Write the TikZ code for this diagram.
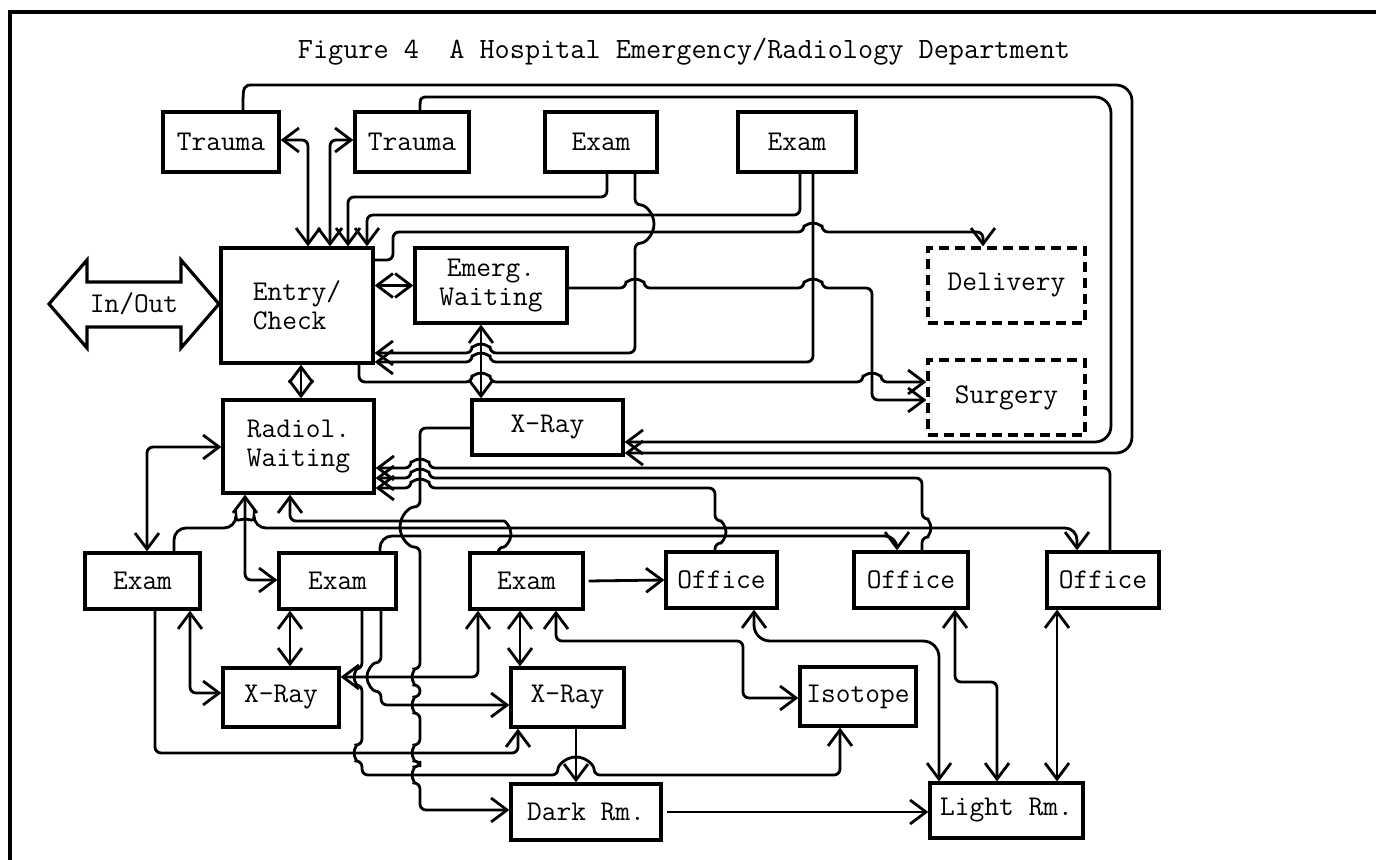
\documentclass[tikz,border=0pt]{standalone}
\usepackage{fontspec}
\usetikzlibrary{arrows.meta}

\tikzset{
  room/.style={draw, line width=1.6pt, inner sep=0pt, align=center,
    font=\ttfamily\fontsize{14.3}{14.5}\selectfont},
  planned/.style={room, dash pattern=on 5pt off 3pt},
  link/.style={line width=1.4pt, rounded corners=3pt},
  >={Straight Barb[length=8pt,width=12pt]},
}

\begin{document}
\begin{tikzpicture}[x=0.5pt,y=-0.5pt]

   \useasboundingbox (0,0) rectangle (1376,860);
   \draw [line width=1.6pt] (10,860) -- (10,12) -- (1376,12);

   \node (Title) at (684,52) [font=\ttfamily\fontsize{14.7}{16}\selectfont] {Figure 4~~A Hospital Emergency/Radiology Department};

   \node (Trauma-1) at (221,142) [room, minimum width=58pt, minimum height=30pt] {Trauma};
   \node (Trauma-2) at (412,142) [room, minimum width=57pt, minimum height=30pt] {Trauma};
   \node (Exam-Top-1) at (601,142) [room, minimum width=56pt, minimum height=30pt] {Exam};
   \node (Exam-Top-2) at (797,142) [room, minimum width=59pt, minimum height=30pt] {Exam};

   \node (In-Out) at (134,304) [font=\ttfamily\fontsize{14.3}{11}\selectfont] {In/Out};
   \draw [line width=1.6pt] (49,304) -- (87,260) -- (87,282) -- (181,282) -- (181,260) -- (219,304)
      -- (181,348) -- (181,327) -- (87,327) -- (87,348) -- cycle;

   \node (Entry-Check) at (297,305.5) [room, align=left, minimum width=76pt, minimum height=57.5pt] {Entry/\\Check};
   \node (Emerg-Waiting) at (491,285.5) [room, minimum width=76pt, minimum height=37.5pt] {Emerg.\\Waiting};
   \node (Delivery) at (1006.5,285.5) [planned, minimum width=78.5pt, minimum height=37.5pt] {Delivery};
   \node (Surgery) at (1006.5,397.5) [planned, minimum width=78.5pt, minimum height=37.5pt] {Surgery};

   \node (Radiol-Waiting) at (298.5,446.5) [room, minimum width=75.5pt, minimum height=46.5pt] {Radiol.\\Waiting};
   \node (X-Ray-1) at (547.5,427.5) [room, minimum width=75.5pt, minimum height=27.5pt] {X-Ray};

   \node (Exam-1) at (142.5,581) [room, minimum width=57.5pt, minimum height=28pt] {Exam};
   \node (Exam-2) at (337.5,581) [room, minimum width=58.5pt, minimum height=28pt] {Exam};
   \node (Exam-3) at (526.5,581) [room, minimum width=56.5pt, minimum height=28pt] {Exam};
   \node (Office-1) at (721.5,580) [room, minimum width=55.5pt, minimum height=28pt] {Office};
   \node (Office-2) at (911,580) [room, minimum width=57pt, minimum height=28pt] {Office};
   \node (Office-3) at (1103,580) [room, minimum width=56pt, minimum height=28pt] {Office};

   \node (X-Ray-2) at (281,697.5) [room, minimum width=58pt, minimum height=29.5pt] {X-Ray};
   \node (X-Ray-3) at (567.5,697.5) [room, minimum width=56.5pt, minimum height=29.5pt] {X-Ray};
   \node (Isotope) at (858,696.5) [room, minimum width=58pt, minimum height=29.5pt] {Isotope};
   \node (Dark-Rm) at (586,812) [room, minimum width=75pt, minimum height=28pt] {Dark Rm.};
   \node (Light-Rm) at (1006.5,810.5) [room, minimum width=76.5pt, minimum height=27.5pt] {Light Rm.};

   % emergency side
   \draw [link, rounded corners=8pt, ->] (Trauma-1.north -| 243,0) .. controls (243,85) .. (270,85)
      -- (1132,85) -- (1132,453) -- (X-Ray-1.east |- 0,453);
   \draw [link, rounded corners=8pt, ->] (Trauma-2.north -| 420,0) .. controls (420,97) .. (445,97)
      -- (1111,97) -- (1111,442) -- (X-Ray-1.east |- 0,442);
   \draw [link, <->] (Trauma-1.east |- 0,140) -- (308,140) -- (Entry-Check.north -| 308,0);
   \draw [link, <->] (Trauma-2.west |- 0,140) -- (330,140) -- (Entry-Check.north -| 330,0);
   \draw [link, ->] (Exam-Top-1.south -| 607,0) -- (607,197) -- (348,197) -- (Entry-Check.north -| 348,0);
   \draw [link, ->] (Exam-Top-2.south -| 800,0) -- (800,215) -- (367,215) -- (Entry-Check.north -| 367,0);
   \draw [link, ->] (Exam-Top-1.south -| 635,0) -- (635,205) arc[start angle=270,end angle=450,radius=19]
      -- (635,353) -- (490,353) arc[start angle=0,end angle=-180,radius=9] -- (Entry-Check.east |- 0,353);
   \draw [link, ->] (Exam-Top-2.south -| 813,0) -- (813,362) -- (490,362)
      arc[start angle=0,end angle=-180,radius=9] -- (Entry-Check.east |- 0,362);
   \draw [link, ->] (Entry-Check.east |- 0,260) -- (393,260) -- (393,232) -- (804,232)
      arc[start angle=180,end angle=360,radius=9] -- (983,232) -- (Delivery.north -| 983,0);
   \draw [link, <->] (Entry-Check.east |- Emerg-Waiting.west) -- (Emerg-Waiting.west);
   \draw [link, ->] (Emerg-Waiting.east |- 0,288) -- (626,288) arc[start angle=180,end angle=360,radius=9]
      -- (804,288) arc[start angle=180,end angle=360,radius=9] -- (872,288) -- (872,400) -- (Surgery.west |- 0,400);
   \draw [link, ->] (Entry-Check.south -| 359,0) -- (359,382) -- (472,382) arc[start angle=180,end angle=360,radius=9]
      -- (863,382) arc[start angle=180,end angle=360,radius=9] -- (Surgery.west |- 0,382);
   \draw [link, <->] (Emerg-Waiting.south -| 481,0) -- (X-Ray-1.north -| 481,0);
   \draw [link, <->] (Entry-Check.south -| 301,0) -- (Radiol-Waiting.north -| 301,0);

   % radiology side
   \draw [link, ->] (X-Ray-1.west |- 0,428) -- (420,428) -- (420,507) arc[start angle=-90,end angle=-270,radius=20]
      -- (420,669) arc[start angle=-90,end angle=-270,radius=8] -- (420,697) arc[start angle=-90,end angle=-270,radius=8]
      -- (420,745) arc[start angle=-90,end angle=-270,radius=8] -- (420,767) arc[start angle=-90,end angle=-270,radius=8]
      -- (420,810) -- (Dark-Rm.west |- 0,810);
   \draw [link, ->] (Office-3.north -| 1110,0) -- (1110,468) -- (429,468)
      arc[start angle=0,end angle=-180,radius=9] -- (Radiol-Waiting.east |- 0,468);
   \draw [link, ->] (Office-2.north -| 922,0) -- (922,537) arc[start angle=90,end angle=-90,radius=9]
      -- (922,478) -- (429,478) arc[start angle=0,end angle=-180,radius=9] -- (Radiol-Waiting.east |- 0,478);
   \draw [link, ->] (Office-1.north -| 715,0) -- (715,543) arc[start angle=90,end angle=-90,radius=11]
      -- (715,488) -- (429,488) arc[start angle=0,end angle=-180,radius=9] -- (Radiol-Waiting.east |- 0,488);
   \draw [link, ->] (Exam-3.north -| 498,0) -- (498,547) arc[start angle=90,end angle=-90,radius=13]
      -- (290,521) -- (Radiol-Waiting.south -| 290,0);
   \draw [link, rounded corners=6pt, ->] (Exam-1.north -| 174,0) -- (174,528) -- (236,528)
      arc[start angle=180,end angle=360,radius=9] -- (1077,528) -- (Office-3.north -| 1077,0);
   \draw [link, rounded corners=6pt, ->] (Exam-2.north -| 380,0) -- (380,536) -- (897,536) -- (Office-2.north -| 897,0);
   \draw [link, ->] ([xshift=2pt]Exam-3.east) -- (Office-1.west);
   \draw [link, <->] (Radiol-Waiting.west |- 0,447) -- (147,447) -- (Exam-1.north -| 147,0);
   \draw [link, <->] (Radiol-Waiting.south -| 245,0) -- (245,580) -- (Exam-2.west |- 0,580);
   \draw [link, <->] (Exam-1.south -| 190,0) -- (190,693) -- (X-Ray-2.west |- 0,693);
   \draw [link, ->] (Exam-1.south -| 155,0) -- (155,753) -- (518,753) -- (X-Ray-3.south -| 518,0);
   \draw [link, <->] (Exam-2.south -| 290,0) -- (X-Ray-2.north -| 290,0);
   \draw [link, ->] (Exam-2.south -| 362,0) -- (362,669) arc[start angle=-90,end angle=-270,radius=8]
      -- (362,745) arc[start angle=-90,end angle=-270,radius=8] -- (362,775) -- (558,775)
      arc[start angle=180,end angle=360,radius=18] -- (840,775) -- (Isotope.south -| 840,0);
   \draw [link, ->] (Exam-2.south -| 381,0) -- (381,663) arc[start angle=-90,end angle=-270,radius=14]
      -- (381,705) -- (X-Ray-3.west |- 0,705);
   \draw [link, <->] (Exam-3.south -| 478,0) -- (478,677) -- (X-Ray-2.east |- 0,677);
   \draw [link, <->] (Exam-3.south -| 520,0) -- (X-Ray-3.north -| 520,0);
   \draw [link, <->] (Exam-3.south -| 556,0) -- (556,641) -- (743,641) -- (743,698) -- (Isotope.west |- 0,698);
   \draw [link, ->] (X-Ray-3.south -| 576,0) -- (Dark-Rm.north -| 576,0);
   \draw [link, rounded corners=8pt, <->] (Office-1.south -| 754,0) -- (754,641) -- (939,641) -- (Light-Rm.north -| 939,0);
   \draw [link, <->] (Office-2.south -| 955,0) -- (955,682) -- (997,682) -- (Light-Rm.north -| 997,0);
   \draw [link, <->] (Office-3.south -| 1057,0) -- (Light-Rm.north -| 1057,0);
   \draw [link, ->] ([xshift=2pt]Dark-Rm.east) -- (Light-Rm.west |- Dark-Rm.east);

\end{tikzpicture}
\end{document}
